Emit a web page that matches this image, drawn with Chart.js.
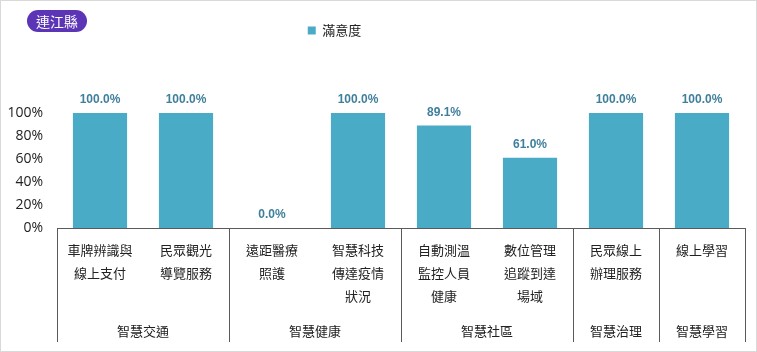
<!DOCTYPE html>
<html>
<head>
<meta charset="utf-8">
<script src="https://cdn.jsdelivr.net/npm/chart.js@4"></script>
<style>
  html, body { margin: 0; padding: 0; background: #d9d9d9; }
  #wrap { position: absolute; left: 1px; top: 1px; width: 755px; height: 350px; background: #fff; }
  #chart { position: absolute; left: -1px; top: -1px; }
  .badge {
    position: absolute; left: 26px; top: 9px; height: 22px; padding: 0 9px;
    background: #5b35b5; color: #fff; border-radius: 11px;
    font: 14px "Noto Sans CJK TC", sans-serif; line-height: 22px;
  }
</style>
</head>
<body>
<div id="wrap">
  <canvas id="chart" width="757" height="352"></canvas>
  <div class="badge">連江縣</div>
</div>
<script>
const categorias = [
    ["車牌辨識與", "線上支付"],
    ["民眾觀光", "導覽服務"],
    ["遠距醫療", "照護"],
    ["智慧科技", "傳達疫情", "狀況"],
    ["自動測溫", "監控人員", "健康"],
    ["數位管理", "追蹤到達", "場域"],
    ["民眾線上", "辦理服務"],
    ["線上學習"]
];
const satisfaccion = [100.0, 100.0, 0.0, 100.0, 89.1, 61.0, 100.0, 100.0];
const grupos = ["智慧交通", "智慧健康", "智慧社區", "智慧治理", "智慧學習"];
const grupoTamano = [2, 2, 2, 1, 1];
const yTicks = [0, 20, 40, 60, 80, 100];

const FONT_CJK = '"Noto Sans CJK TC", "Noto Sans", sans-serif';

// espacio extra debajo de la leyenda y leyenda algo desplazada a la izquierda
const legendMargin = {
    id: "legendMargin",
    beforeInit(chart) {
        const fit = chart.legend.fit;
        chart.legend.fit = function () {
            fit.bind(chart.legend)();
            this.height += 66;
        };
    },
    afterLayout(chart) {
        chart.legend.left -= 38;
        chart.legend.right -= 38;
    }
};

// etiquetas de valor sobre cada barra
const dataLabels = {
    id: "dataLabels",
    afterDatasetsDraw(chart) {
        const ctx = chart.ctx;
        const meta = chart.getDatasetMeta(0);
        ctx.save();
        ctx.font = 'bold 12px "Liberation Sans", Arial, sans-serif';
        ctx.fillStyle = "#3f7f9c";
        ctx.textAlign = "center";
        ctx.textBaseline = "middle";
        meta.data.forEach((bar, i) => {
            ctx.fillText(satisfaccion[i].toFixed(1) + "%", bar.x, bar.y - 13);
        });
        ctx.restore();
    }
};

// separadores y nombres de grupo bajo el eje x
const groupAxis = {
    id: "groupAxis",
    afterDraw(chart) {
        const ctx = chart.ctx;
        const x = chart.scales.x;
        const area = chart.chartArea;
        const half = (x.getPixelForValue(1) - x.getPixelForValue(0)) / 2;
        const bottom = area.bottom + 114;
        ctx.save();
        ctx.strokeStyle = "#5a5a5a";
        ctx.lineWidth = 1;
        ctx.font = "13px " + FONT_CJK;
        ctx.fillStyle = "#222";
        ctx.textAlign = "center";
        ctx.textBaseline = "middle";
        let idx = 0;
        const edges = [x.getPixelForValue(0) - half];
        grupos.forEach((g, i) => {
            const start = x.getPixelForValue(idx) - half;
            idx += grupoTamano[i];
            const end = x.getPixelForValue(idx - 1) + half;
            edges.push(end);
            ctx.fillText(g, (start + end) / 2, area.bottom + 103);
        });
        edges.forEach(e => {
            const px = Math.round(e) + 0.5;
            ctx.beginPath();
            ctx.moveTo(px, area.bottom);
            ctx.lineTo(px, bottom);
            ctx.stroke();
        });
        ctx.restore();
    }
};

new Chart(document.getElementById("chart"), {
    type: "bar",
    data: {
        labels: categorias,
        datasets: [{
            label: "滿意度",
            data: satisfaccion,
            backgroundColor: "#4aabc6",
            barPercentage: 0.63,
            categoryPercentage: 1
        }]
    },
    options: {
        responsive: false,
        animation: false,
        layout: { padding: { top: 10, right: 12, left: 0, bottom: 0 } },
        plugins: {
            legend: {
                position: "top",
                labels: {
                    boxWidth: 8,
                    boxHeight: 8,
                    padding: 14,
                    color: "#222",
                    font: { size: 13, family: FONT_CJK }
                }
            },
            tooltip: { enabled: false }
        },
        scales: {
            x: {
                grid: { display: false, drawTicks: false },
                border: { color: "#5a5a5a", width: 1 },
                ticks: {
                    color: "#222",
                    padding: 11,
                    autoSkip: false,
                    maxRotation: 0,
                    font: { size: 13, family: FONT_CJK, lineHeight: 1.77 }
                },
                afterFit(scale) { scale.height = 124; }
            },
            y: {
                min: 0,
                max: 100,
                afterBuildTicks(scale) { scale.ticks = yTicks.map(v => ({ value: v })); },
                grid: { display: false, drawTicks: false },
                border: { display: false },
                ticks: {
                    color: "#222",
                    padding: 14,
                    font: { size: 14, family: '"Open Sans", sans-serif' },
                    callback: v => v + "%"
                },
                afterFit(scale) { scale.width = 57; }
            }
        }
    },
    plugins: [legendMargin, dataLabels, groupAxis]
});
</script>
</body>
</html>
